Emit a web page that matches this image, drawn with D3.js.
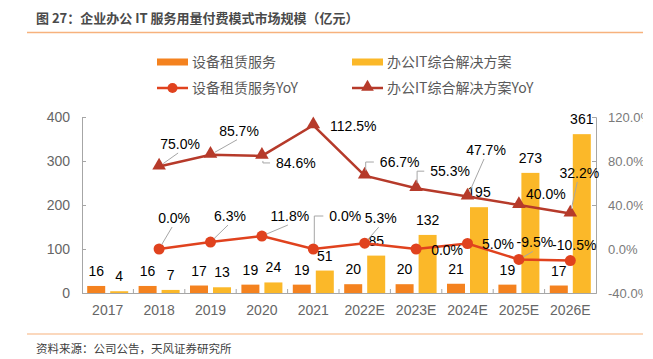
<!DOCTYPE html>
<html><head><meta charset="utf-8">
<script src="https://cdn.jsdelivr.net/npm/d3@7"></script>
<style>
html,body{margin:0;padding:0;background:#fff;}
svg{display:block;font-family:"Liberation Sans",Arial,"Noto Sans CJK SC",sans-serif;}
</style></head>
<body><svg id="c" width="653" height="359"></svg>
<script>
const categories = ["2017","2018","2019","2020","2021","2022E","2023E","2024E","2025E","2026E"];
const rentalValues = [16,16,17,19,19,20,20,21,19,17];
const itValues = [4,7,13,24,51,85,132,195,273,361];
const rentalYoY = [null,0.0,6.3,11.8,0.0,5.3,0.0,5.0,-9.5,-10.5];
const itYoY = [null,75.0,85.7,84.6,112.5,66.7,55.3,47.7,40.0,32.2];
const leftTicks = [0,100,200,300,400];
const rightTicks = [-40,0,40,80,120];
const seriesNames = ["设备租赁服务","办公IT综合解决方案","设备租赁服务YoY","办公IT综合解决方案YoY"];
const titleText = "图 27：企业办公 IT 服务用量付费模式市场规模（亿元）";
const sourceText = "资料来源：公司公告，天风证券研究所";

// label placement (offset from point, leader style)
const rentalLabelPos = [null,[15,-31,"d"],[19.5,-26,"d"],[28,-20,"d"],[32,-33,"e"],[16,-25,"d"],[31,1,null],[30.5,0.5,null],[16,-17,"d"],[4,-15.5,null]];
const itLabelPos = [null,[21,-22.5,"d"],[28.5,-24,"d"],[34,7,"e"],[40,1,null],[35,-13.6,"e"],[34,-17,"e"],[18.5,-46.5,"d"],[27,-11,null],[9,-40.6,"d"]];

const C = {orange:"#F4821F", yellow:"#FBB829", line1:"#E0421E", line2:"#B63A2A", axis:"#A6A6A6", tick:"#7F7F7F", leader:"#A6A6A6"};

const svg = d3.select("#c");
const root = svg.append("g");
svg.append("defs").append("clipPath").attr("id","clip").append("rect").attr("x",0).attr("y",0).attr("width",643).attr("height",359);
root.attr("clip-path","url(#clip)");

// title
root.append("text").attr("x",36).attr("y",23).attr("font-size",13).attr("font-weight","bold").attr("fill","#4a4a4a")
  .attr("font-family",'"Noto Sans CJK SC","Liberation Sans",sans-serif').text(titleText);
root.append("line").attr("x1",27).attr("x2",643).attr("y1",32.5).attr("y2",32.5).attr("stroke","#F7B27D").attr("stroke-width",1.5);
root.append("line").attr("x1",27).attr("x2",643).attr("y1",334).attr("y2",334).attr("stroke","#F7B27D").attr("stroke-width",1.2);
root.append("text").attr("x",36).attr("y",353).attr("font-size",11.5).attr("fill","#404040")
  .attr("font-family",'"Noto Sans CJK SC",sans-serif').text(sourceText);

const x = d3.scaleBand().domain(categories).range([82,596]);
const xs = d3.scaleBand().domain([0,1]).range([0,x.bandwidth()]).paddingInner(0.217).paddingOuter(0.226);
const y = d3.scaleLinear().domain([0,400]).range([293,117]);
const y2 = d3.scaleLinear().domain([-40,120]).range([293,117]);

// axes
const la = root.append("g").attr("transform","translate(82,0)")
  .call(d3.axisLeft(y).tickValues(leftTicks).tickSize(-4).tickPadding(12));
const ra = root.append("g").attr("transform","translate(596,0)")
  .call(d3.axisRight(y2).tickValues(rightTicks).tickSize(-4).tickPadding(12).tickFormat(d=>d.toFixed(1)+"%"));
const ba = root.append("g").attr("transform","translate(0,293)")
  .call(d3.axisBottom(x).tickSize(0).tickPadding(12));
[la,ra,ba].forEach(a=>{
  a.selectAll("path,line").attr("stroke",C.axis);
  a.selectAll("text").attr("fill","#666").attr("font-size",14).attr("font-family",'"Liberation Sans",Arial,sans-serif');
});
ra.selectAll("text").attr("font-size",13).attr("fill","#7a7a7a");
// small ticks between categories on baseline
root.append("g").selectAll("line").data(categories.slice(1)).join("line")
  .attr("x1",d=>x(d)).attr("x2",d=>x(d)).attr("y1",293).attr("y2",289).attr("stroke",C.axis);

// bars
const bars = root.append("g");
[[rentalValues,C.orange,0],[itValues,C.yellow,1]].forEach(([vals,col,k])=>{
  bars.selectAll(null).data(vals).join("rect")
    .attr("x",(d,i)=>x(categories[i])+xs(k)).attr("width",xs.bandwidth())
    .attr("y",d=>y(d)).attr("height",d=>y(0)-y(d)).attr("fill",col);
  bars.selectAll(null).data(vals).join("text")
    .attr("x",(d,i)=>x(categories[i])+xs(k)+xs.bandwidth()/2).attr("y",d=>y(d)-10)
    .attr("text-anchor","middle").attr("font-size",14).attr("fill","#000").text(d=>d);
});

// lines
function drawLine(vals,col,marker,pos){
  const pts = vals.map((v,i)=>v==null?null:{v,i,px:x(categories[i])+x.bandwidth()/2,py:y2(v)}).filter(d=>d);
  const g = root.append("g");
  g.append("path").datum(pts).attr("d",d3.line().x(d=>d.px).y(d=>d.py))
    .attr("fill","none").attr("stroke",col).attr("stroke-width",2.5);
  if(marker==="circle"){
    g.selectAll("circle").data(pts).join("circle").attr("cx",d=>d.px).attr("cy",d=>d.py).attr("r",5.5).attr("fill",col);
  } else {
    g.selectAll("path.m").data(pts).join("path").attr("class","m")
      .attr("d",d3.symbol(d3.symbolTriangle,80)).attr("transform",d=>`translate(${d.px},${d.py-1})`).attr("fill",col);
  }
  const lg = root.append("g");
  pts.forEach(d=>{
    const p = pos[d.i]; if(!p) return;
    const cx = d.px+p[0], cy = d.py+p[1];
    const txt = d.v.toFixed(1)+"%";
    const t = lg.append("text").attr("x",cx).attr("y",cy+5).attr("text-anchor","middle").attr("font-size",14).attr("fill","#000").text(txt);
    const w = t.node().getComputedTextLength();
    if(p[2]==="d"){
      const ex = cx-2, ey = cy+ (p[1]<0?9:-9);
      const dx = ex-d.px, dy = ey-d.py, L = Math.hypot(dx,dy);
      lg.append("line").attr("x1",d.px+dx/L*5).attr("y1",d.py+dy/L*5).attr("x2",ex).attr("y2",ey)
        .attr("stroke",C.leader).attr("stroke-width",1);
    } else if(p[2]==="e"){
      const sy = d.py + (cy<d.py?-5:5);
      lg.append("polyline").attr("points",`${d.px+1},${sy} ${d.px+1},${cy} ${cx-w/2-6},${cy}`)
        .attr("fill","none").attr("stroke",C.leader).attr("stroke-width",1);
    }
  });
}
drawLine(itYoY,C.line2,"tri",itLabelPos);
drawLine(rentalYoY,C.line1,"circle",rentalLabelPos);

// legend
const leg = root.append("g").attr("font-size",14).attr("fill","#595959");
const legItems = [
  {n:seriesNames[0],t:"bar",c:C.orange,x:157,y:62},
  {n:seriesNames[1],t:"bar",c:C.yellow,x:352,y:62},
  {n:seriesNames[2],t:"circle",c:C.line1,x:157,y:88},
  {n:seriesNames[3],t:"tri",c:C.line2,x:352,y:88}];
legItems.forEach(it=>{
  if(it.t==="bar"){
    leg.append("rect").attr("x",it.x).attr("y",it.y-3.5).attr("width",31).attr("height",7).attr("fill",it.c);
  } else {
    leg.append("line").attr("x1",it.x).attr("x2",it.x+31).attr("y1",it.y).attr("y2",it.y).attr("stroke",it.c).attr("stroke-width",2.5);
    if(it.t==="circle") leg.append("circle").attr("cx",it.x+15.5).attr("cy",it.y).attr("r",5).attr("fill",it.c);
    else leg.append("path").attr("d",d3.symbol(d3.symbolTriangle,70)).attr("transform",`translate(${it.x+15.5},${it.y-1})`).attr("fill",it.c);
  }
  leg.append("text").attr("x",it.x+35).attr("y",it.y+5).attr("fill","#595959")
    .attr("font-family",'"Noto Sans CJK SC","Liberation Sans",sans-serif').text(it.n);
});
</script></body></html>
